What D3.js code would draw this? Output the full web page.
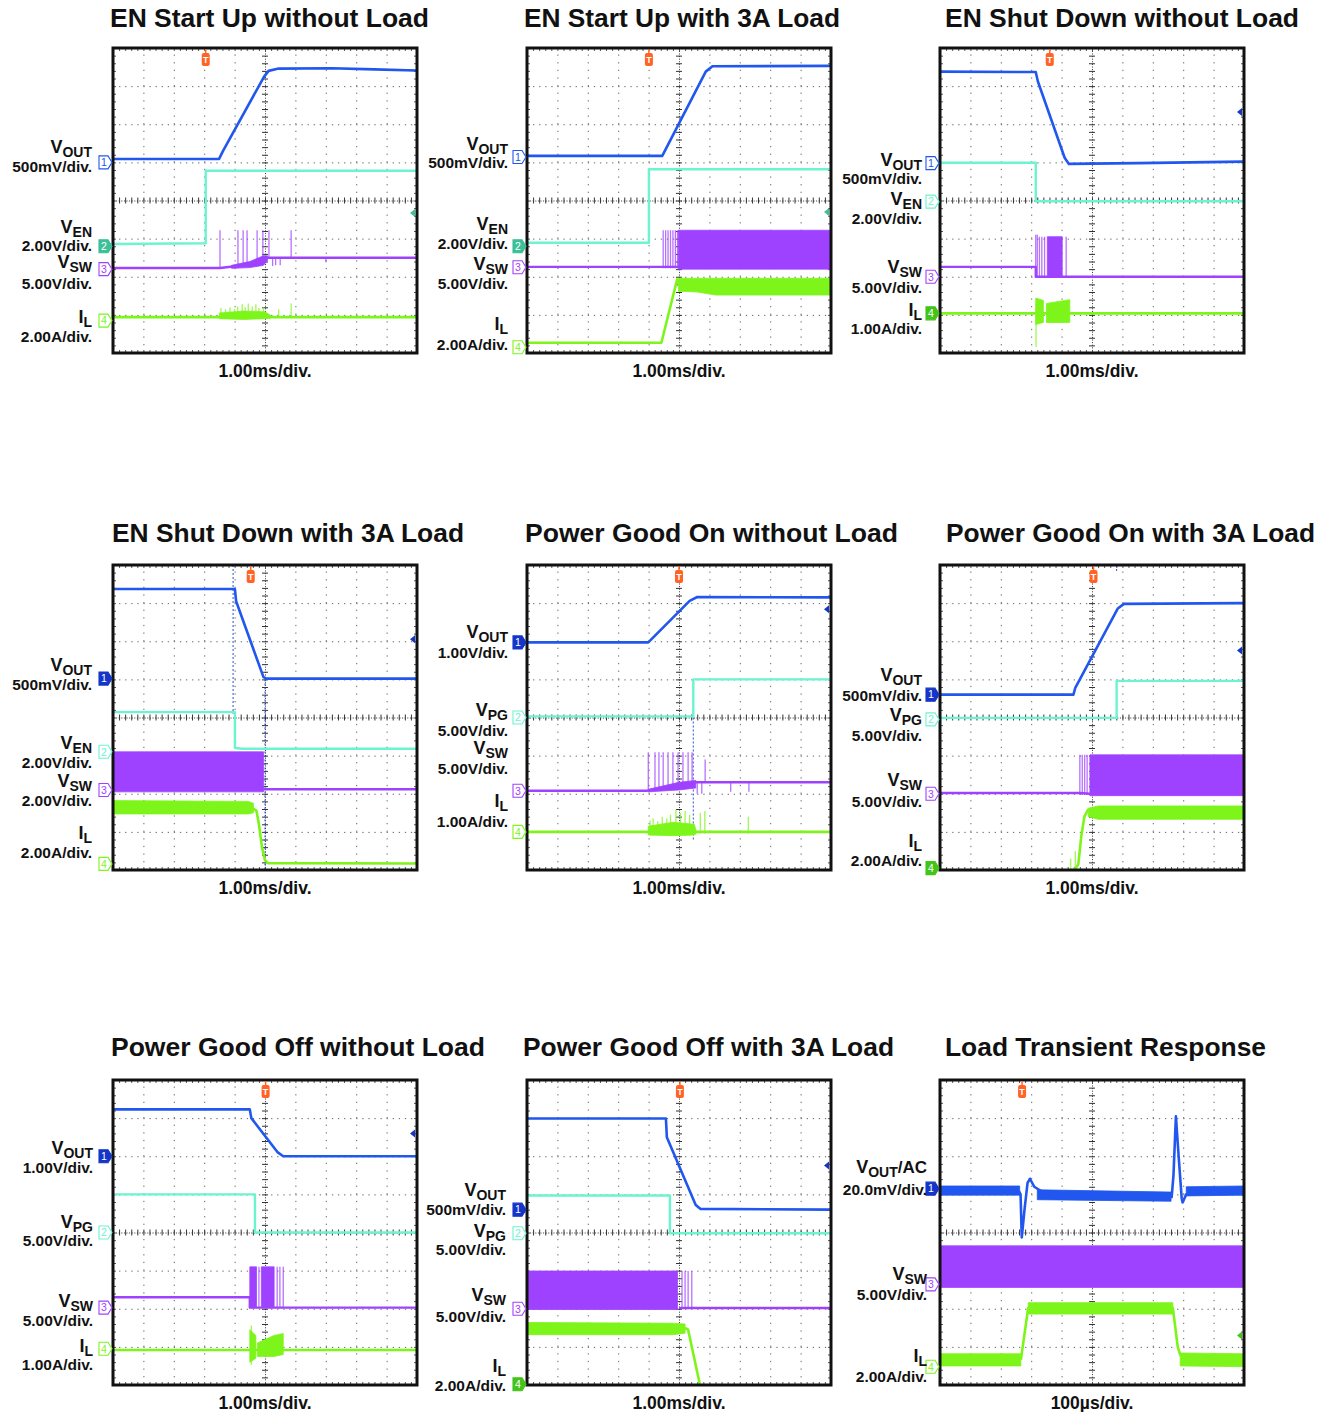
<!DOCTYPE html>
<html><head><meta charset="utf-8">
<script src="https://cdn.jsdelivr.net/npm/d3@7"></script>
<style>
body{margin:0;background:#fff}
svg{display:block}
text{font-family:"Liberation Sans",Arial,Helvetica,sans-serif;fill:#111}
</style></head>
<body>
<svg id="c" width="1330" height="1412"></svg>
<script>
// ---- data (screen divisions: time 0..10, amplitude 0..8) ----
// P1 EN Start Up without Load
const p1Vout=[[0,5.09],[3.49,5.09],[3.62,5.3],[4.97,7.25],[5.12,7.4],[5.45,7.46],[7.2,7.47],[8.6,7.44],[10,7.41]];
const p1Ven=[[0,2.86],[3.05,2.88],[3.05,4.78],[10,4.78]];
const p1Vsw=[[0,2.23],[3.52,2.23],[4.3,2.3],[4.95,2.45],[5.1,2.5],[10,2.5]];
const p1VswFuzz=[[3.9,2.22,2.3],[4.5,2.24,2.4],[4.95,2.3,2.55],[5.08,2.42,2.55]];
const p1VswSpk=[[3.52,2.23,3.22],[4.11,2.28,3.22],[4.28,2.3,3.22],[4.41,2.32,3.22],[4.74,2.38,3.22],[4.93,2.45,3.22],[5.13,2.5,3.22],[5.86,2.5,3.22],[5.25,2.28,2.5],[5.35,2.3,2.5],[5.5,2.3,2.5],[7.0,2.38,2.5]];
const p1Il=[[0,0.94],[10,0.94]];
const p1IlFuzz=[[3.5,0.9,1.05],[4.3,0.88,1.1],[5.0,0.9,1.08],[5.2,0.92,0.98]];
const p1IlSpk=[[3.55,0.9,1.18],[3.7,0.9,1.15],[3.85,0.9,1.2],[4.0,0.9,1.16],[4.1,0.9,1.22],[4.25,0.9,1.28],[4.35,0.9,1.2],[4.45,0.9,1.3],[4.58,0.9,1.22],[4.7,0.9,1.28],[4.8,0.9,1.18],[4.95,0.9,1.2],[5.45,0.92,1.15],[5.86,0.92,1.3]];
// P2 EN Start Up with 3A Load
const p2Vout=[[0,5.17],[4.45,5.17],[5.88,7.38],[6.1,7.52],[10,7.53]];
const p2Ven=[[0,2.89],[4.01,2.89],[4.01,4.82],[10,4.82]];
const p2Vsw=[[0,2.26],[4.48,2.26],[10,2.26]];
const p2VswBand=[[4.98,2.2,3.22],[10,2.2,3.22]];
const p2VswSpk=[[4.48,2.22,3.22],[4.56,2.22,3.22],[4.64,2.22,3.22],[4.72,2.22,3.22],[4.8,2.22,3.22],[4.88,2.22,3.22],[4.95,2.22,3.22]];
const p2Il=[[0,0.27],[4.42,0.27],[4.94,1.93],[5.02,1.78]];
const p2IlBand=[[4.98,1.62,1.96],[5.6,1.6,1.96],[6.2,1.52,1.96],[10,1.52,1.96]];
// P3 EN Shut Down without Load
const p3Vout=[[0,7.38],[3.15,7.37],[3.22,7.12],[4.1,5.12],[4.24,4.96],[6.5,4.98],[10,5.02]];
const p3Ven=[[0,4.99],[3.15,4.99],[3.15,3.98],[10,3.98]];
const p3Vsw=[[0,2.26],[3.15,2.26],[3.15,2.0],[10,2.0]];
const p3VswBand=[[3.53,2.0,3.05],[4.02,2.0,3.05]];
const p3VswSpk=[[3.15,2.0,3.1],[3.2,2.0,3.1],[3.27,2.0,3.05],[3.35,2.0,3.05],[3.44,2.0,3.05],[4.15,2.0,3.05]];
const p3Il=[[0,1.04],[10,1.04]];
const p3IlBandA=[[3.15,0.75,1.44],[3.4,0.8,1.38]];
const p3IlBandB=[[3.5,0.8,1.3],[4.27,0.8,1.4]];
const p3IlSpk=[[3.16,0.16,1.3]];
// P4 EN Shut Down with 3A Load
const p4Vout=[[0,7.37],[4.01,7.37],[4.05,7.05],[4.95,5.06],[5.05,5.02],[10,5.02]];
const p4Ven=[[0,4.14],[4.01,4.14],[4.01,3.2],[4.25,3.18],[10,3.18]];
const p4VswBand=[[0,2.05,3.1],[4.95,2.05,3.1]];
const p4Vsw=[[4.95,2.12],[10,2.12]];
const p4IlBand=[[0,1.47,1.82],[4.45,1.47,1.8],[4.62,1.5,1.75]];
const p4Il=[[4.6,1.62],[4.72,1.55],[4.8,1.2],[4.9,0.6],[5.0,0.26],[5.1,0.18],[10,0.17]];
const p4Cursor=[[3.95,8,4.1],[5.0,5.0,0]];
// P5 Power Good On without Load
const p5Vout=[[0,5.97],[3.99,5.97],[5.35,7.06],[5.6,7.16],[10,7.15]];
const p5Vpg=[[0,4.03],[5.47,4.03],[5.47,5.0],[10,5.0]];
const p5Vsw=[[0,2.08],[3.94,2.08],[5.0,2.2],[5.5,2.3],[10,2.3]];
const p5VswFuzz=[[4.0,2.05,2.12],[5.0,2.1,2.3],[5.55,2.15,2.35]];
const p5VswSpk=[[3.99,2.1,3.09],[4.21,2.1,3.09],[4.34,2.1,3.09],[4.48,2.12,3.09],[4.64,2.12,3.09],[4.8,2.15,3.09],[4.97,2.18,3.09],[5.13,2.2,3.09],[5.3,2.22,3.09],[5.43,2.25,3.09],[5.86,2.3,2.9],[5.6,2.0,2.3],[5.75,2.0,2.3],[6.7,2.05,2.3],[7.3,2.05,2.3]];
const p5Il=[[0,1.0],[10,1.0]];
const p5IlFuzz=[[3.99,0.92,1.15],[4.8,0.9,1.25],[5.5,0.92,1.2],[5.56,0.95,1.05]];
const p5IlSpk=[[4.05,0.9,1.3],[4.15,0.9,1.35],[4.3,0.9,1.28],[4.45,0.9,1.4],[4.6,0.9,1.35],[4.72,0.9,1.45],[4.9,0.9,1.58],[5.05,0.9,1.5],[5.2,0.9,1.55],[5.35,0.9,1.45],[5.7,0.95,1.5],[5.85,0.95,1.55],[7.28,0.95,1.4]];
const p5Cursor=[[5.47,4.0,0.8]];
// P6 Power Good On with 3A Load
const p6Vout=[[0,4.6],[4.39,4.6],[4.45,4.78],[5.85,6.86],[6.05,6.98],[10,7.0]];
const p6Vpg=[[0,3.99],[5.81,3.99],[5.81,4.96],[10,4.96]];
const p6Vsw=[[0,2.02],[4.6,2.02],[4.93,2.0]];
const p6VswBand=[[4.93,1.95,3.02],[10,1.95,3.02]];
const p6VswSpk=[[4.6,1.97,3.02],[4.68,1.97,3.02],[4.76,1.97,3.02],[4.84,1.97,3.02]];
const p6Il=[[4.35,-0.1],[4.55,0.15],[4.65,0.9],[4.75,1.4],[4.88,1.6]];
const p6IlBand=[[4.88,1.4,1.62],[5.2,1.33,1.68],[10,1.33,1.68]];
const p6IlSpk=[[4.3,0,0.3],[4.45,0,0.5]];
const p6Cursor=[[5.81,8,7.8]];
// P7 Power Good Off without Load
const p7Vout=[[0,7.23],[4.5,7.23],[4.55,7.0],[5.42,6.1],[5.6,6.0],[10,6.0]];
const p7Vpg=[[0,5.0],[4.67,5.0],[4.67,4.0],[10,4.0]];
const p7Vsw=[[0,2.3],[4.5,2.3],[4.5,2.03],[10,2.03]];
const p7VswBandA=[[4.5,2.03,3.1],[4.72,2.03,3.1]];
const p7VswBandB=[[4.88,2.03,3.1],[5.3,2.03,3.1]];
const p7VswSpk=[[4.8,2.03,3.1],[5.4,2.03,3.1],[5.49,2.03,3.1],[5.6,2.03,3.1]];
const p7Il=[[0,0.92],[10,0.92]];
const p7IlBandA=[[4.5,0.6,1.45],[4.7,0.7,1.3]];
const p7IlBandB=[[4.75,0.75,1.1],[5.3,0.75,1.3],[5.6,0.8,1.35]];
const p7IlSpk=[[4.55,0.53,1.56]];
// P8 Power Good Off with 3A Load
const p8Vout=[[0,6.99],[4.57,6.99],[4.6,6.5],[5.55,4.72],[5.7,4.62],[10,4.6]];
const p8Vpg=[[0,4.97],[4.7,4.97],[4.7,3.98],[10,3.98]];
const p8VswBand=[[0,1.98,2.99],[4.95,1.98,2.99]];
const p8VswSpk=[[5.1,2.0,2.99],[5.2,2.0,2.99],[5.3,2.0,2.99],[5.42,2.0,2.99]];
const p8Vsw=[[5.0,2.02],[10,2.02]];
const p8IlBand=[[0,1.32,1.64],[4.8,1.32,1.62],[5.2,1.36,1.6]];
const p8Il=[[5.2,1.5],[5.3,1.45],[5.69,0],[5.75,-0.3]];
// P9 Load Transient Response
const p9Vout=[[0,5.1],[2.6,5.08],[2.65,5.0],[2.69,3.87],[2.78,4.6],[2.88,5.3],[2.96,5.41],[3.1,5.2],[3.5,5.0],[5,4.95],[7.0,4.93],[7.62,4.93],[7.68,5.5],[7.76,7.05],[7.85,6.0],[7.95,4.9],[7.98,4.79],[8.1,5.0],[8.5,5.05],[10,5.1]];
const p9VoutFuzzA=[[0,4.98,5.22],[2.62,4.98,5.22]];
const p9VoutFuzzB=[[3.2,4.86,5.12],[7.6,4.82,5.06]];
const p9VoutFuzzC=[[8.1,4.96,5.2],[10,4.98,5.22]];
const p9VswBand=[[0,2.56,3.65],[10,2.56,3.65]];
const p9IlBandA=[[0,0.5,0.82],[2.66,0.5,0.82]];
const p9IlBandB=[[2.9,1.86,2.16],[7.66,1.86,2.16]];
const p9IlBandC=[[7.9,0.5,0.84],[10,0.48,0.82]];
const p9Il=[[2.66,0.66],[2.9,2.02],[7.66,2.02],[7.82,1.0],[7.9,0.8],[8.0,0.68]];

// ---- panel descriptions ----
const PANELS=[
 {title:"EN Start Up without Load",tx:110,tw:319,col:0,row:0,tb:"1.00ms/div.",trig:3.05,lr:92,
  labels:[["V","OUT","","500mV/div.",153,172],["V","EN","","2.00V/div.",233,251],["V","SW","","5.00V/div.",268,289],["I","L","","2.00A/div.",323,342]],
  markers:[[1,5.0,0],[2,2.8,1],[3,2.2,0],[4,0.85,0]],rmark:[2,3.67],
  ch:{1:{line:p1Vout},2:{line:p1Ven},3:{line:p1Vsw,bands:[p1VswFuzz],spikes:p1VswSpk},4:{line:p1Il,bands:[p1IlFuzz],spikes:p1IlSpk}}},
 {title:"EN Start Up with 3A Load",tx:524,tw:316,col:1,row:0,tb:"1.00ms/div.",trig:4.01,lr:508,
  labels:[["V","OUT","","500mV/div.",150,168],["V","EN","","2.00V/div.",230,249],["V","SW","","5.00V/div.",270,289],["I","L","","2.00A/div.",330,350]],
  markers:[[1,5.14,0],[2,2.8,1],[3,2.25,0],[4,0.15,0]],rmark:[2,3.7],
  ch:{1:{line:p2Vout},2:{line:p2Ven},3:{line:p2Vsw,bands:[p2VswBand],spikes:p2VswSpk},4:{line:p2Il,bands:[p2IlBand]}}},
 {title:"EN Shut Down without Load",tx:945,tw:354,col:2,row:0,tb:"1.00ms/div.",trig:3.61,lr:922,
  labels:[["V","OUT","","500mV/div.",166,184],["V","EN","","2.00V/div.",205,224],["V","SW","","5.00V/div.",273,293],["I","L","","1.00A/div.",316,334]],
  markers:[[1,4.98,0],[2,3.97,0],[3,2.0,0],[4,1.04,1]],rmark:[1,6.32],
  ch:{1:{line:p3Vout},2:{line:p3Ven},3:{line:p3Vsw,bands:[p3VswBand],spikes:p3VswSpk},4:{line:p3Il,bands:[p3IlBandA,p3IlBandB],spikes:p3IlSpk}}},
 {title:"EN Shut Down with 3A Load",tx:112,tw:352,col:0,row:1,tb:"1.00ms/div.",trig:4.53,lr:92,
  labels:[["V","OUT","","500mV/div.",671,690],["V","EN","","2.00V/div.",749,768],["V","SW","","2.00V/div.",787,806],["I","L","","2.00A/div.",839,858]],
  markers:[[1,5.02,1],[2,3.1,0],[3,2.1,0],[4,0.16,0]],rmark:[1,6.05],cursors:p4Cursor,
  ch:{1:{line:p4Vout},2:{line:p4Ven},3:{line:p4Vsw,bands:[p4VswBand]},4:{line:p4Il,bands:[p4IlBand]}}},
 {title:"Power Good On without Load",tx:525,tw:373,col:1,row:1,tb:"1.00ms/div.",trig:5.0,lr:508,
  labels:[["V","OUT","","1.00V/div.",638,658],["V","PG","","5.00V/div.",716,736],["V","SW","","5.00V/div.",754,774],["I","L","","1.00A/div.",807,827]],
  markers:[[1,5.97,1],[2,4.0,0],[3,2.08,0],[4,1.0,0]],rmark:[1,6.84],cursors:p5Cursor,
  ch:{1:{line:p5Vout},2:{line:p5Vpg},3:{line:p5Vsw,bands:[p5VswFuzz],spikes:p5VswSpk},4:{line:p5Il,bands:[p5IlFuzz],spikes:p5IlSpk}}},
 {title:"Power Good On with 3A Load",tx:946,tw:369,col:2,row:1,tb:"1.00ms/div.",trig:5.05,lr:922,
  labels:[["V","OUT","","500mV/div.",681,701],["V","PG","","5.00V/div.",721,741],["V","SW","","5.00V/div.",786,807],["I","L","","2.00A/div.",847,866]],
  markers:[[1,4.6,1],[2,3.95,0],[3,2.0,0],[4,0.05,1]],rmark:[1,5.76],cursors:p6Cursor,
  ch:{1:{line:p6Vout},2:{line:p6Vpg},3:{line:p6Vsw,bands:[p6VswBand],spikes:p6VswSpk},4:{line:p6Il,bands:[p6IlBand],spikes:p6IlSpk}}},
 {title:"Power Good Off without Load",tx:111,tw:374,col:0,row:2,tb:"1.00ms/div.",trig:5.02,lr:93,
  labels:[["V","OUT","","1.00V/div.",1154,1173],["V","PG","","5.00V/div.",1228,1246],["V","SW","","5.00V/div.",1307,1326],["I","L","","1.00A/div.",1352,1370]],
  markers:[[1,6.0,1],[2,4.0,0],[3,2.03,0],[4,0.95,0]],rmark:[1,6.6],
  ch:{1:{line:p7Vout},2:{line:p7Vpg},3:{line:p7Vsw,bands:[p7VswBandA,p7VswBandB],spikes:p7VswSpk},4:{line:p7Il,bands:[p7IlBandA,p7IlBandB],spikes:p7IlSpk}}},
 {title:"Power Good Off with 3A Load",tx:523,tw:371,col:1,row:2,tb:"1.00ms/div.",trig:5.03,lr:506,
  labels:[["V","OUT","","500mV/div.",1196,1215],["V","PG","","5.00V/div.",1237,1255],["V","SW","","5.00V/div.",1301,1322],["I","L","","2.00A/div.",1372,1391]],
  markers:[[1,4.6,1],[2,3.98,0],[3,2.0,0],[4,0.02,1]],rmark:[1,5.76],
  ch:{1:{line:p8Vout},2:{line:p8Vpg},3:{line:p8Vsw,bands:[p8VswBand],spikes:p8VswSpk},4:{line:p8Il,bands:[p8IlBand]}}},
 {title:"Load Transient Response",tx:945,tw:321,col:2,row:2,tb:"100\u00b5s/div.",trig:2.7,lr:927,
  labels:[["V","OUT","/AC","20.0mV/div.",1173,1195],["V","SW","","5.00V/div.",1280,1300],["I","L","","2.00A/div.",1362,1382]],
  markers:[[1,5.15,1],[3,2.64,0],[4,0.48,0]],rmark:[4,1.3],
  ch:{1:{line:p9Vout,bands:[p9VoutFuzzA,p9VoutFuzzB,p9VoutFuzzC]},3:{bands:[p9VswBand]},4:{line:p9Il,bands:[p9IlBandA,p9IlBandB,p9IlBandC]}}}
];

// ---- layout / style ----
const COLS=[113,527,940], ROWS=[48,565,1080], TITLE_Y=[27,542,1056];
const W=304, H=305;
const COLOR={1:"#2157ef",2:"#6cf3cf",3:"#9f42ff",4:"#7df51a"};
const FILLC={1:"#1435c8",2:"#3dbf98",3:"#8a2be2",4:"#43c41a"};
const WIDTH={1:2.6,2:2.4,3:2.4,4:2.6};

const svg=d3.select('#c');
svg.append('rect').attr('width',1330).attr('height',1412).attr('fill','#fff');

function clean(sel,col,dash){
  sel.select('.domain').remove();
  sel.selectAll('line').attr('stroke',col).attr('stroke-width',1).attr('stroke-dasharray',dash||null);
}

PANELS.forEach((p,i)=>{
  const left=COLS[p.col], top=ROWS[p.row];
  const x=d3.scaleLinear().domain([0,10]).range([0,W]);
  const y=d3.scaleLinear().domain([0,8]).range([H,0]);

  svg.append('text').attr('x',p.tx).attr('y',TITLE_Y[p.row])
    .attr('font-size',26.5).attr('font-weight','bold')
    .attr('textLength',p.tw).attr('lengthAdjust','spacingAndGlyphs').text(p.title);

  const g=svg.append('g').attr('transform',`translate(${left},${top})`);
  g.append('rect').attr('width',W).attr('height',H).attr('fill','#fff');

  // major dotted grid
  const gx=g.append('g').attr('transform',`translate(0,${H})`)
    .call(d3.axisBottom(x).tickValues([1,2,3,4,6,7,8,9]).tickSize(-H).tickSizeOuter(0).tickFormat(''));
  clean(gx,'#666','1.3,6.32');
  const gy=g.append('g')
    .call(d3.axisLeft(y).tickValues([1,2,3,5,6,7]).tickSize(-W).tickSizeOuter(0).tickFormat(''));
  clean(gy,'#666','1.3,4.78');
  // centre crosshair with minor ticks
  const minorX=d3.range(0,10.001,0.2), minorY=d3.range(0,8.001,0.2);
  const cx=g.append('g').attr('transform',`translate(0,${y(4)})`)
    .call(d3.axisBottom(x).tickValues(minorX).tickSize(3).tickSizeOuter(0).tickFormat(''));
  cx.select('.domain').attr('stroke','#333').attr('stroke-dasharray','1,1.6');
  cx.selectAll('.tick line').attr('stroke','#333').attr('y1',-3);
  const cy=g.append('g').attr('transform',`translate(${x(5)},0)`)
    .call(d3.axisRight(y).tickValues(minorY).tickSize(3).tickSizeOuter(0).tickFormat(''));
  cy.select('.domain').attr('stroke','#333').attr('stroke-dasharray','1,1.6');
  cy.selectAll('.tick line').attr('stroke','#333').attr('x1',-3);
  // border minor ticks
  const bt=g.append('g').call(d3.axisTop(x).tickValues(minorX).tickSize(-3).tickSizeOuter(0).tickFormat('')); clean(bt,'#555');
  const bb=g.append('g').attr('transform',`translate(0,${H})`).call(d3.axisBottom(x).tickValues(minorX).tickSize(-3).tickSizeOuter(0).tickFormat('')); clean(bb,'#555');
  const bl=g.append('g').call(d3.axisLeft(y).tickValues(minorY).tickSize(-3).tickSizeOuter(0).tickFormat('')); clean(bl,'#555');
  const br=g.append('g').attr('transform',`translate(${W},0)`).call(d3.axisRight(y).tickValues(minorY).tickSize(-3).tickSizeOuter(0).tickFormat('')); clean(br,'#555');

  // clip
  const cid='clip'+i;
  g.append('clipPath').attr('id',cid).append('rect').attr('x',1).attr('y',1).attr('width',W-2).attr('height',H-2);
  const tr=g.append('g').attr('clip-path',`url(#${cid})`);

  const line=d3.line().x(d=>x(d[0])).y(d=>y(d[1]));
  const area=d3.area().x(d=>x(d[0])).y0(d=>y(d[1])).y1(d=>y(d[2]));

  if(p.cursors){
    tr.selectAll('line.cur').data(p.cursors).join('line').attr('class','cur')
      .attr('x1',d=>x(d[0])).attr('x2',d=>x(d[0])).attr('y1',d=>y(d[1])).attr('y2',d=>y(d[2]))
      .attr('stroke','#2a4de0').attr('stroke-width',1).attr('stroke-dasharray','2,2');
  }

  [1,2,3,4].forEach(c=>{
    const d=p.ch[c]; if(!d) return;
    (d.bands||[]).forEach(b=>{
      tr.append('path').datum(b).attr('d',area).attr('fill',COLOR[c])
        .attr('stroke',COLOR[c]).attr('stroke-width',0.8);
    });
    if(d.spikes){
      tr.selectAll(null).data(d.spikes).join('line')
        .attr('x1',s=>x(s[0])).attr('x2',s=>x(s[0])).attr('y1',s=>y(s[1])).attr('y2',s=>y(s[2]))
        .attr('stroke',COLOR[c]).attr('stroke-width',1.3).attr('stroke-opacity',0.75);
    }
    if(d.line){
      tr.append('path').datum(d.line).attr('d',line).attr('fill','none')
        .attr('stroke',COLOR[c]).attr('stroke-width',WIDTH[c]).attr('stroke-linejoin','round');
    }
  });

  // border
  g.append('rect').attr('x',0).attr('y',0).attr('width',W).attr('height',H)
    .attr('fill','none').attr('stroke','#111').attr('stroke-width',3);

  // trigger marker
  const tx=x(p.trig);
  g.append('line').attr('x1',tx).attr('x2',tx).attr('y1',1).attr('y2',5).attr('stroke','#ff6326').attr('stroke-width',1.5);
  g.append('rect').attr('x',tx-4).attr('y',5).attr('width',8).attr('height',13).attr('rx',2).attr('fill','#ff6326');
  g.append('text').attr('x',tx).attr('y',15).attr('text-anchor','middle').attr('font-size',9)
    .attr('font-weight','bold').style('fill','#fff').text('T');

  // right-side level marker
  const [rc,rl]=p.rmark; const ry=y(rl);
  g.append('path').attr('d',`M${W-2},${ry-4}V${ry+4}L${W-7},${ry}Z`).attr('fill',rc===2?'#3dbf98':FILLC[rc]);

  // channel ground markers
  p.markers.forEach(([c,lvl,filled])=>{
    const yy=y(lvl);
    g.append('path').attr('d',`M-14,${yy-6.5}H-5L-1,${yy}L-5,${yy+6.5}H-14Z`)
      .attr('fill',filled?FILLC[c]:'#fff').attr('stroke',filled?FILLC[c]:COLOR[c]).attr('stroke-width',1.1);
    g.append('text').attr('x',-9).attr('y',yy+3.8).attr('text-anchor','middle').attr('font-size',10.5)
      .style('fill',filled?'#fff':COLOR[c]).text(c);
  });

  // left labels: one two-line text per channel
  p.labels.forEach(([m,sub,suf,scale,y1,y2])=>{
    const t=svg.append('text').attr('text-anchor','end').attr('font-weight','bold');
    t.append('tspan').attr('x',p.lr).attr('y',y1).attr('font-size',18).text(m);
    t.append('tspan').attr('font-size',14).attr('dy',3.5).text(sub);
    if(suf) t.append('tspan').attr('font-size',17).attr('dy',-3.5).text(suf);
    t.append('tspan').attr('x',p.lr).attr('y',y2).attr('font-size',15.5).text(scale);
  });

  // timebase
  svg.append('text').attr('x',left+W/2).attr('y',top+H+24).attr('text-anchor','middle')
    .attr('font-size',17.5).attr('font-weight','bold').text(p.tb);
});
</script>
</body></html>
